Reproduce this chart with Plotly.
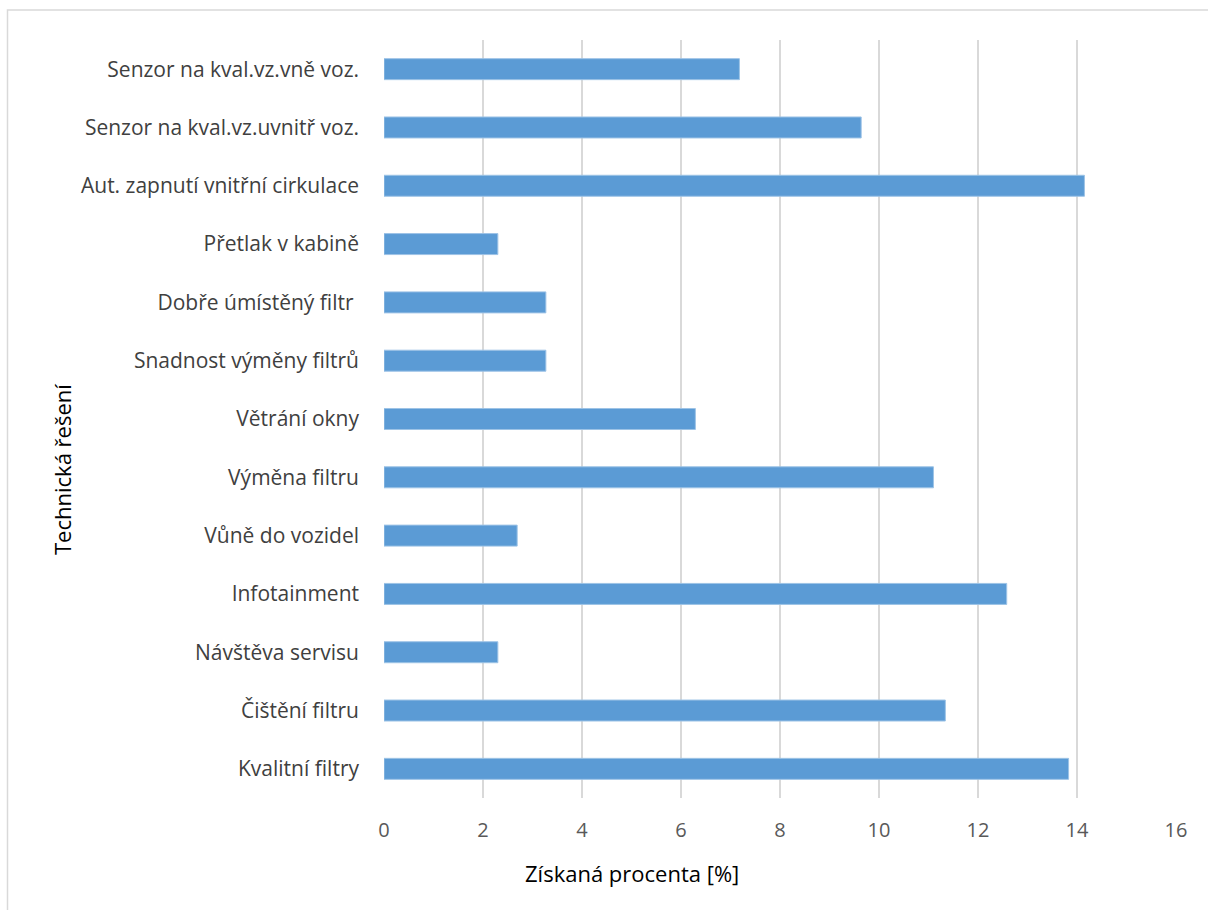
import plotly.graph_objects as go

categories = [
    "Senzor na kval.vz.vně voz.",
    "Senzor na kval.vz.uvnitř voz.",
    "Aut. zapnutí vnitřní cirkulace",
    "Přetlak v kabině",
    "Dobře úmístěný filtr ",
    "Snadnost výměny filtrů",
    "Větrání okny",
    "Výměna filtru",
    "Vůně do vozidel",
    "Infotainment",
    "Návštěva servisu",
    "Čištění filtru",
    "Kvalitní filtry",
]
values = [7.18, 9.64, 14.15, 2.30, 3.27, 3.27, 6.29, 11.10, 2.69, 12.58, 2.30, 11.34, 13.83]
x_ticks = [0, 2, 4, 6, 8, 10, 12, 14, 16]

FONT = "Open Sans"
W, H = 1208, 910
L, R, T, B = 384, 32, 40, 112
pw = W - L - R
ph = H - T - B


def px(xp):
    return (xp - L) / pw


def py(yp):
    return (H - B - yp) / ph


fig = go.Figure(go.Bar(
    x=values, y=categories, orientation="h",
    marker=dict(color="#5B9BD5", line=dict(color="#9DC3E6", width=1)),
    width=0.36,
))

fig.add_shape(type="rect", xref="paper", yref="paper",
              x0=px(7.5), x1=px(W + 10), y0=py(H + 10), y1=py(10),
              line=dict(color="#D9D9D9", width=1.5), fillcolor="rgba(0,0,0,0)", layer="below")

fig.add_annotation(text="Získaná procenta [%]", xref="paper", yref="paper",
                   x=px(632), y=py(873), xanchor="center", yanchor="middle",
                   showarrow=False, font=dict(family=FONT, size=22, color="#000000"))
fig.add_annotation(text="Technická řešení", xref="paper", yref="paper",
                   x=px(62), y=py(470), xanchor="center", yanchor="middle", textangle=-90,
                   showarrow=False, font=dict(family=FONT, size=22, color="#000000"))

fig.update_layout(
    width=W, height=H,
    margin=dict(l=L, r=R, t=T, b=B, pad=0),
    paper_bgcolor="white", plot_bgcolor="white",
    font=dict(family=FONT, size=20, color="#595959"),
    showlegend=False,
)
fig.update_xaxes(
    range=[0, 16], tickvals=x_ticks, ticktext=[str(t) for t in x_ticks],
    showgrid=True, gridcolor="#D9D9D9", gridwidth=1.5,
    zeroline=False, showline=False, ticks="",
    ticklabelstandoff=18,
    tickfont=dict(family=FONT, size=20, color="#595959"),
)
fig.update_yaxes(
    categoryorder="array", categoryarray=categories[::-1],
    showgrid=False, zeroline=False, showline=False, ticks="",
    ticklabelstandoff=24,
    tickfont=dict(family=FONT, size=21, color="#404040"),
)

fig.write_html("out.html")
